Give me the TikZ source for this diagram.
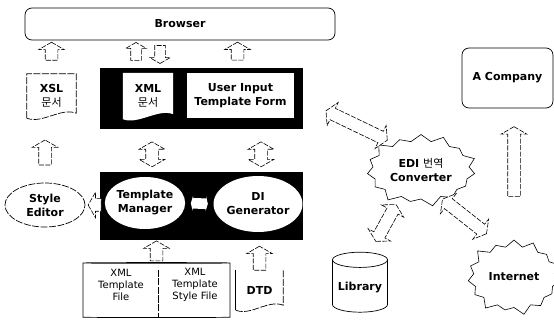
\documentclass[tikz,border=0pt]{standalone}
\usepackage{fontspec}
\setmainfont{DejaVu Sans}
\newfontfamily\kr{Noto Sans CJK KR}
\usetikzlibrary{shapes.geometric,shapes.symbols,shapes.arrows}

\tikzset{
  rbox/.style={draw, line width=0.7pt, rounded corners=7pt},
  plain/.style={inner sep=0pt},
  broken/.style={line width=0.7pt, dash pattern=on 7pt off 1.5pt},
  oval/.style={ellipse, inner sep=0pt, align=center},
  blk/.style={single arrow, draw, fill=white, line width=0.6pt, dash pattern=on 5pt off 1.5pt,
    inner xsep=0pt, inner ysep=6pt, single arrow head extend=6.5pt, single arrow head indent=0pt,
    single arrow tip angle=120, sloped, allow upside down},
  blkboth/.style={double arrow, draw, fill=white, line width=0.6pt, dash pattern=on 5pt off 1.5pt,
    inner xsep=0pt, inner ysep=6pt, double arrow head extend=6.5pt, double arrow head indent=0pt,
    double arrow tip angle=120, sloped, allow upside down},
  burst/.style={starburst, draw, line width=0.6pt, starburst points=15, starburst point height=9pt, align=center},
  cyl/.style={cylinder, shape border rotate=90, draw, line width=0.7pt},
  thin/.style={font=\fontsize{10}{12}\selectfont}
}

\begin{document}
\begin{tikzpicture}[x=1pt, y=-1pt, font=\bfseries\fontsize{11}{14}\selectfont]
  \useasboundingbox (0,0) rectangle (554,320);

  \node[rbox, minimum width=310pt, minimum height=32pt] (browser) at (180,24) {Browser};
  \node[rbox, minimum width=91pt, minimum height=60pt] (company) at (507.5,78) {A Company};

  \node[plain, minimum width=49pt, minimum height=44pt, align=center] (xsl) at (51.5,96) {XSL\\{\mdseries\kr 문서}};
  \draw[broken] (xsl.south west) -- (xsl.north west) -- (xsl.north east) -- ([yshift=5pt]xsl.south east)
    .. controls +(-15,-6) and +(15,6) .. (xsl.south west);

  \node[fill=black, minimum width=203pt, minimum height=61pt] (upper) at (201.5,98.5) {};
  \node[plain, minimum width=50pt, minimum height=46pt, align=center] (xmldoc) at (148,96) {};
  \fill[white] (xmldoc.south west) -- (xmldoc.north west) -- (xmldoc.north east) -- ([yshift=5pt]xmldoc.south east)
    .. controls +(-15,-6) and +(15,6) .. (xmldoc.south west);
  \node[align=center] at (xmldoc) {XML\\{\mdseries\kr 문서}};
  \node[fill=white, minimum width=107pt, minimum height=45pt, align=center] (form) at (240.5,95.5) {User Input\\Template Form};

  \node[oval, draw, broken, minimum width=80pt, minimum height=44pt] (style) at (45,205) {Style\\Editor};
  \node[fill=black, minimum width=203pt, minimum height=68pt] (lower) at (201.5,206) {};
  \node[oval, fill=white, minimum width=74pt, minimum height=52pt] (tm) at (145,203) {Template\\Manager};
  \node[oval, fill=white, minimum width=82pt, minimum height=56pt] (di) at (258,204) {DI\\Generator};

  \node[cyl, minimum width=147pt, minimum height=55pt, aspect=0.12] (tpl) at (156.5,290.5) {};
  \draw[broken] (158,270) -- (158,318);
  \node[thin, align=center] (xmlfile) at (121,285) {XML\\Template\\File};
  \node[thin, align=center] (stylefile) at (195,285) {XML\\Template\\Style File};

  \node[plain, minimum width=47pt, minimum height=40pt] (dtd) at (259.5,290) {DTD};
  \draw[line width=0.7pt] (dtd.north west) -- (dtd.south west);
  \draw[broken] (dtd.south west) .. controls +(15,6) and +(-15,-6) .. ([yshift=5pt]dtd.south east) -- (dtd.north east);

  \node[cyl, minimum width=55pt, minimum height=60pt, aspect=0.3] (library) at (360,288) {Library};

  \node[burst, minimum width=82pt, minimum height=76pt] (edi) at (421,170) {EDI {\mdseries\kr 번역}\\Converter};
  \node[burst, minimum width=78pt, minimum height=79pt] (internet) at (514,277) {Internet};

  \path (xsl.north) -- node[blk, pos=0.62, minimum height=18pt] {} (xsl.north |- browser.south);
  \path ([xshift=-12pt]xmldoc.north |- upper.north) -- node[blk, pos=0.54, minimum height=18pt, inner ysep=5pt, single arrow head extend=5pt] {} ([xshift=-12pt]xmldoc.north |- browser.south);
  \path ([xshift=12pt]xmldoc.north |- browser.south) -- node[blk, pos=0.46, minimum height=18pt, inner ysep=5pt, single arrow head extend=5pt] {} ([xshift=12pt]xmldoc.north |- upper.north);
  \path ([xshift=-3pt]form.north |- upper.north) -- node[blk, pos=0.54, minimum height=18pt] {} ([xshift=-3pt]form.north |- browser.south);

  \path (style.north) -- node[blk, pos=0.44, minimum height=25pt] {} (style.north |- xsl.south);
  \path ([xshift=7pt]tm.north |- lower.north) -- node[blkboth, pos=0.41, minimum height=25pt] {} ([xshift=7pt]tm.north |- upper.south);
  \path ([xshift=3pt]di.north |- lower.north) -- node[blkboth, pos=0.41, minimum height=25pt] {} ([xshift=3pt]di.north |- upper.south);

  \path (lower.west |- style.east) -- node[blk, pos=0.23, minimum height=13pt] {} (style.east);
  \path (tm.east) -- node[blkboth, pos=0.5, minimum height=17pt, draw=none, inner ysep=5pt, double arrow head extend=2pt, double arrow tip angle=150] {} (di.west);

  \path (tpl.north) -- node[blk, pos=0.43, minimum height=20pt] {} (tpl.north |- lower.south);
  \path (dtd.north) -- node[blk, pos=0.33, minimum height=24pt] {} (dtd.north |- lower.south);

  \path (form.east) -- node[blkboth, pos=0.62, minimum height=68pt] {} (edi.north west);
  \path ([xshift=-22pt]edi.south) -- node[blkboth, pos=0.45, minimum height=42pt] {} ([xshift=10pt]library.north);
  \path ([xshift=-8pt]edi.south east) -- node[blkboth, pos=0.45, minimum height=56pt] {} ([xshift=-20pt]internet.north);
  \path (internet.north) -- node[blk, pos=0.58, minimum height=70pt] {} (internet.north |- company.south);
\end{tikzpicture}
\end{document}
